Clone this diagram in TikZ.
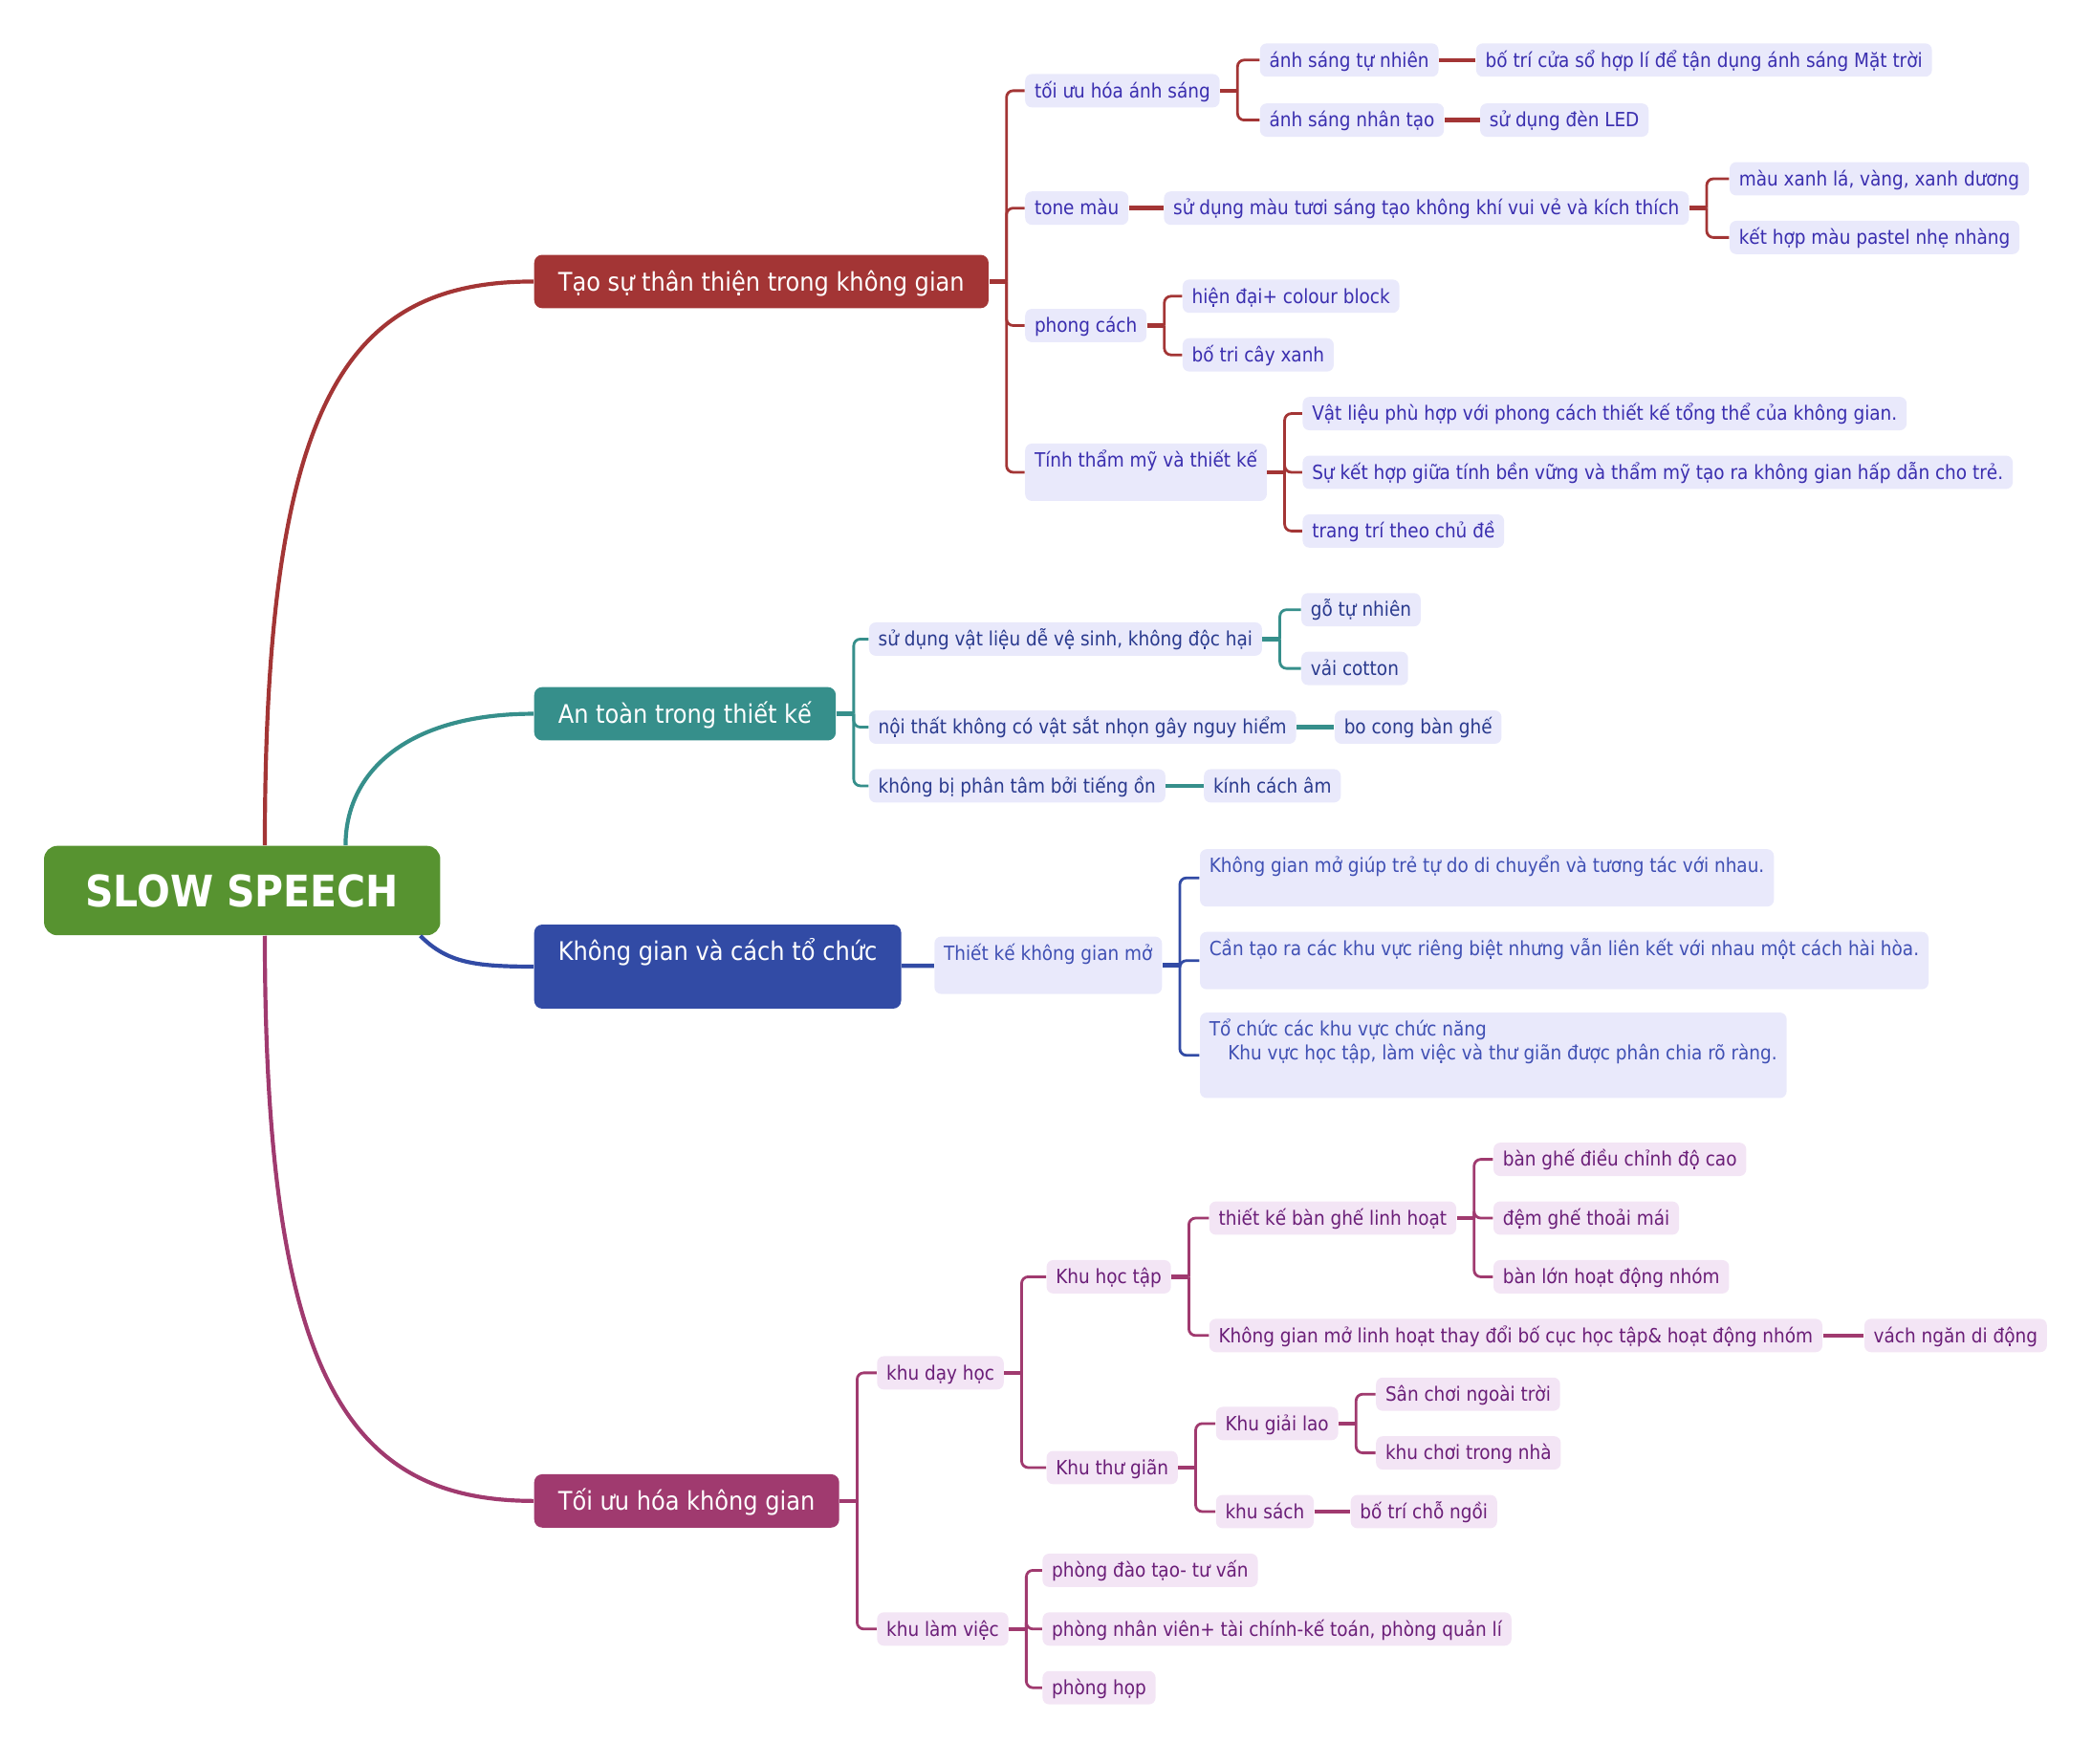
\documentclass[tikz,border=0pt]{standalone}
\usepackage{fontspec}
\setmainfont{DejaVu Sans Condensed}
\usepackage{xcolor}
\usepackage{tikz}
\usetikzlibrary{positioning}

\definecolor{rootgreen}{HTML}{579330}
\definecolor{redc}{HTML}{A33535}
\definecolor{tealc}{HTML}{368F8B}
\definecolor{bluec}{HTML}{324BA5}
\definecolor{magc}{HTML}{A03A6F}
\definecolor{lav}{HTML}{E9E9FB}
\definecolor{pinkfill}{HTML}{F3E5F5}
\definecolor{redtxt}{HTML}{3A2EAF}
\definecolor{tealtxt}{HTML}{2A3A8E}
\definecolor{bluetxt}{HTML}{4050B4}
\definecolor{magtxt}{HTML}{6B1E78}

\begin{document}
\begin{tikzpicture}[x=0.5pt, y=-0.5pt,
    root/.style={fill=rootgreen, rounded corners=5pt, text=white, font=\fontsize{16.3}{19}\selectfont\bfseries, minimum width=148.5pt, minimum height=33.5pt, inner sep=0pt},
    mainbox/.style={rounded corners=3pt, text=white, font=\fontsize{9.6}{12}\selectfont, anchor=west, inner xsep=9pt, inner ysep=5pt, text height=8.5pt, text depth=1.5pt},
    leafbase/.style={rounded corners=2.5pt, anchor=west, font=\fontsize{7.35}{9}\selectfont, inner xsep=3.5pt, inner ysep=1.75pt},
    leaf/.style={leafbase, text height=7.1pt, text depth=1.9pt},
    tall/.style={text depth=10.9pt},
    rleaf/.style={leaf, fill=lav, text=redtxt},
    aleaf/.style={leaf, fill=lav, text=tealtxt},
    kleaf/.style={leaf, fill=lav, text=bluetxt},
    mleaf/.style={leaf, fill=pinkfill, text=magtxt},
    curve/.style={draw=#1, line width=1.5pt},
    stub/.style={draw=#1, line width=1.6pt},
    link/.style={draw=#1, line width=1pt, rounded corners=2.5pt}
]
\useasboundingbox (0,0) rectangle (1568,1322);

% root and main branches
\node[root] (root) at (181.5,667.5) {SLOW SPEECH};
\node[mainbox, fill=redc] (t1) at (400,211) {Tạo sự thân thiện trong không gian};
\node[mainbox, fill=tealc] (t2) at (400,535) {An toàn trong thiết kế};
\node[mainbox, fill=bluec, text depth=13pt] (t3) at (400,724.5) {Không gian và cách tổ chức};
\node[mainbox, fill=magc] (t4) at (400,1125) {Tối ưu hóa không gian};

\draw[curve=redc] ([xshift=8.5pt]root.north) .. controls +(0,-334) and +(-140,0) .. (t1.west);
\draw[curve=tealc] ([xshift=38.75pt]root.north) .. controls +(0,-55) and +(-95,0) .. (t2.west);
\draw[curve=bluec] ([xshift=66.75pt]root.south) .. controls +(20,20) and +(-45,0) .. (t3.west);
\draw[curve=magc] ([xshift=8.5pt]root.south) .. controls +(0,329) and +(-140,0) .. (t4.west);

% Tao su than thien
\node[rleaf] (r1) at (768,68) {tối ưu hóa ánh sáng};
\node[rleaf] (r2) at (768,156) {tone màu};
\node[rleaf] (r3) at (768,244) {phong cách};
\node[rleaf, tall] (r4) at (768,354) {Tính thẩm mỹ và thiết kế};
\node[rleaf] (r11) at (944,45) {ánh sáng tự nhiên};
\node[rleaf] (r12) at (944,90) {ánh sáng nhân tạo};
\node[rleaf] (r111) at (1106,45) {bố trí cửa sổ hợp lí để tận dụng ánh sáng Mặt trời};
\node[rleaf] (r121) at (1109,90) {sử dụng đèn LED};
\node[rleaf] (r21) at (872,156) {sử dụng màu tươi sáng tạo không khí vui vẻ và kích thích};
\node[rleaf] (r211) at (1296,134) {màu xanh lá, vàng, xanh dương};
\node[rleaf] (r212) at (1296,178) {kết hợp màu pastel nhẹ nhàng};
\node[rleaf] (r31) at (886,222) {hiện đại+ colour block};
\node[rleaf] (r32) at (886,266) {bố tri cây xanh};
\node[rleaf] (r41) at (976,310) {Vật liệu phù hợp với phong cách thiết kế tổng thể của không gian.};
\node[rleaf] (r42) at (976,354) {Sự kết hợp giữa tính bền vững và thẩm mỹ tạo ra không gian hấp dẫn cho trẻ.};
\node[rleaf] (r43) at (976,398) {trang trí theo chủ đề};

\coordinate (jt1) at ([xshift=6.5pt]t1.east);
\coordinate (jr1) at ([xshift=6.5pt]r1.east);
\coordinate (jr21) at ([xshift=6.5pt]r21.east);
\coordinate (jr3) at ([xshift=6.5pt]r3.east);
\coordinate (jr4) at ([xshift=6.5pt]r4.east);
\draw[stub=redc] (t1) -- (jt1);
\foreach \n in {r1,r2,r3,r4} \draw[link=redc] (jt1) |- (\n.west);
\draw[stub=redc] (r1) -- (jr1);
\foreach \n in {r11,r12} \draw[link=redc] (jr1) |- (\n.west);
\draw[stub=redc] (r11) -- (r111);
\draw[stub=redc] (r12) -- (r121);
\draw[stub=redc] (r2) -- (r21);
\draw[stub=redc] (r21) -- (jr21);
\foreach \n in {r211,r212} \draw[link=redc] (jr21) |- (\n.west);
\draw[stub=redc] (r3) -- (jr3);
\foreach \n in {r31,r32} \draw[link=redc] (jr3) |- (\n.west);
\draw[stub=redc] (r4) -- (jr4);
\foreach \n in {r41,r42,r43} \draw[link=redc] (jr4) |- (\n.west);

% An toan
\node[aleaf] (a1) at (651,479) {sử dụng vật liệu dễ vệ sinh, không độc hại};
\node[aleaf] (a2) at (651,545) {nội thất không có vật sắt nhọn gây nguy hiểm};
\node[aleaf] (a3) at (651,589) {không bị phân tâm bởi tiếng ồn};
\node[aleaf] (a11) at (975,457) {gỗ tự nhiên};
\node[aleaf] (a12) at (975,501) {vải cotton};
\node[aleaf] (a21) at (1000,545) {bo cong bàn ghế};
\node[aleaf] (a31) at (902,589) {kính cách âm};

\coordinate (jt2) at ([xshift=6.5pt]t2.east);
\coordinate (ja1) at ([xshift=6.5pt]a1.east);
\draw[stub=tealc] (t2) -- (jt2);
\foreach \n in {a1,a2,a3} \draw[link=tealc] (jt2) |- (\n.west);
\draw[stub=tealc] (a1) -- (ja1);
\foreach \n in {a11,a12} \draw[link=tealc] (ja1) |- (\n.west);
\draw[stub=tealc] (a2) -- (a21);
\draw[stub=tealc] (a3) -- (a31);

% Khong gian va cach to chuc
\node[kleaf, tall] (k1) at (700,723.5) {Thiết kế không gian mở};
\node[kleaf, tall] (k11) at (899,658) {Không gian mở giúp trẻ tự do di chuyển và tương tác với nhau.};
\node[kleaf, tall] (k12) at (899,720) {Cần tạo ra các khu vực riêng biệt nhưng vẫn liên kết với nhau một cách hài hòa.};
\node[leafbase, fill=lav, text=bluetxt, align=left, inner ysep=2.5pt] (k13) at (899,791) {\strut Tổ chức các khu vực chức năng\\\hspace*{7pt}\strut Khu vực học tập, làm việc và thư giãn được phân chia rõ ràng.\\\strut};

\coordinate (jk1) at ([xshift=6.5pt]k1.east);
\draw[stub=bluec] (t3) -- (k1);
\draw[stub=bluec] (k1) -- (jk1);
\foreach \n in {k11,k12,k13} \draw[link=bluec] (jk1) |- (\n.west);

% Toi uu hoa
\node[mleaf] (m1) at (657,1029) {khu dạy học};
\node[mleaf] (m2) at (657,1221) {khu làm việc};
\node[mleaf] (m11) at (784,957) {Khu học tập};
\node[mleaf] (m12) at (784,1100) {Khu thư giãn};
\node[mleaf] (m111) at (906,913) {thiết kế bàn ghế linh hoạt};
\node[mleaf] (m112) at (906,1001) {Không gian mở linh hoạt thay đổi bố cục học tập\& hoạt động nhóm};
\node[mleaf] (m1111) at (1119,869) {bàn ghế điều chỉnh độ cao};
\node[mleaf] (m1112) at (1119,913) {đệm ghế thoải mái};
\node[mleaf] (m1113) at (1119,957) {bàn lớn hoạt động nhóm};
\node[mleaf] (m1121) at (1397,1001) {vách ngăn di động};
\node[mleaf] (m121) at (911,1067) {Khu giải lao};
\node[mleaf] (m122) at (911,1133) {khu sách};
\node[mleaf] (m1211) at (1031,1045) {Sân chơi ngoài trời};
\node[mleaf] (m1212) at (1031,1089) {khu chơi trong nhà};
\node[mleaf] (m1221) at (1012,1133) {bố trí chỗ ngồi};
\node[mleaf] (m21) at (781,1177) {phòng đào tạo- tư vấn};
\node[mleaf] (m22) at (781,1221) {phòng nhân viên+ tài chính-kế toán, phòng quản lí};
\node[mleaf] (m23) at (781,1265) {phòng họp};

\coordinate (jt4) at ([xshift=6.5pt]t4.east);
\coordinate (jm1) at ([xshift=6.5pt]m1.east);
\coordinate (jm11) at ([xshift=6.5pt]m11.east);
\coordinate (jm111) at ([xshift=6.5pt]m111.east);
\coordinate (jm12) at ([xshift=6.5pt]m12.east);
\coordinate (jm121) at ([xshift=6.5pt]m121.east);
\coordinate (jm2) at ([xshift=6.5pt]m2.east);
\draw[stub=magc] (t4) -- (jt4);
\foreach \n in {m1,m2} \draw[link=magc] (jt4) |- (\n.west);
\draw[stub=magc] (m1) -- (jm1);
\foreach \n in {m11,m12} \draw[link=magc] (jm1) |- (\n.west);
\draw[stub=magc] (m11) -- (jm11);
\foreach \n in {m111,m112} \draw[link=magc] (jm11) |- (\n.west);
\draw[stub=magc] (m111) -- (jm111);
\foreach \n in {m1111,m1112,m1113} \draw[link=magc] (jm111) |- (\n.west);
\draw[stub=magc] (m112) -- (m1121);
\draw[stub=magc] (m12) -- (jm12);
\foreach \n in {m121,m122} \draw[link=magc] (jm12) |- (\n.west);
\draw[stub=magc] (m121) -- (jm121);
\foreach \n in {m1211,m1212} \draw[link=magc] (jm121) |- (\n.west);
\draw[stub=magc] (m122) -- (m1221);
\draw[stub=magc] (m2) -- (jm2);
\foreach \n in {m21,m22,m23} \draw[link=magc] (jm2) |- (\n.west);
\end{tikzpicture}
\end{document}
